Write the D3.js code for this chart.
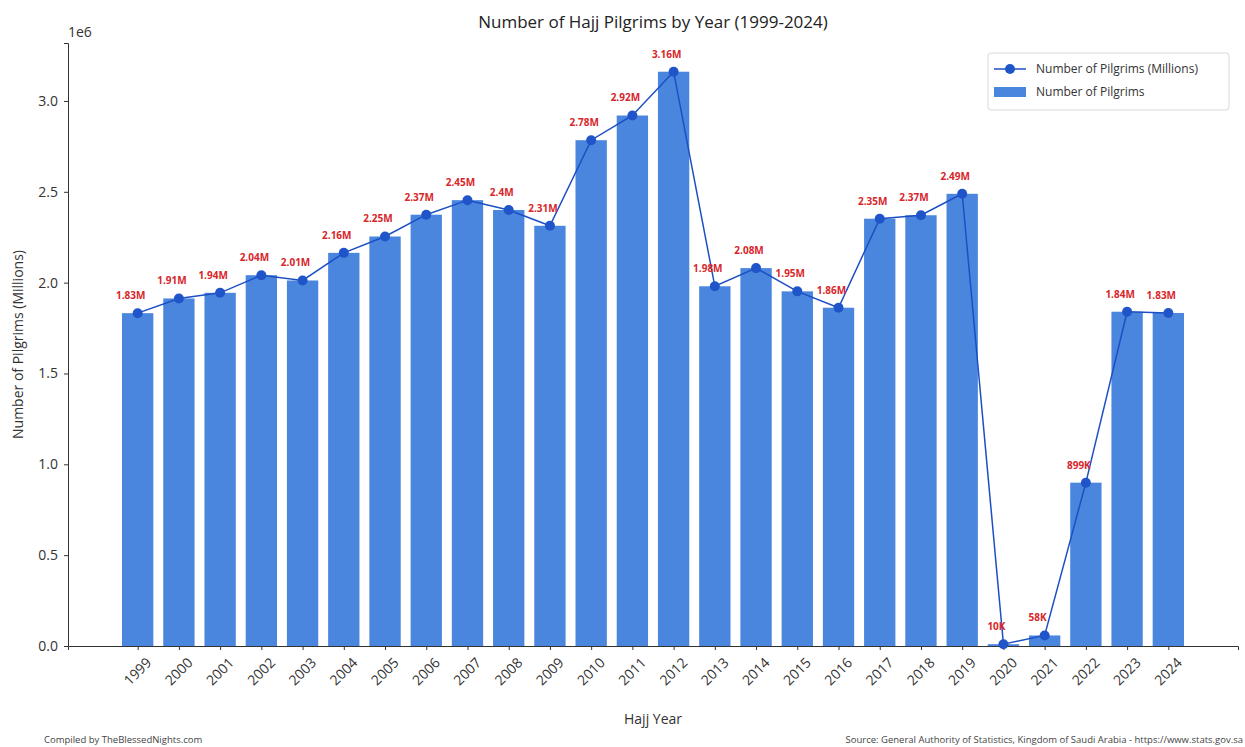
<!DOCTYPE html>
<html>
<head>
<meta charset="utf-8">
<script src="https://cdn.jsdelivr.net/npm/d3@7"></script>
<style>
  body { margin: 0; background: #fff; }
  text { font-family: 'Open Sans', Roboto, sans-serif; }
</style>
</head>
<body>
<div id="chart"></div>
<script>
const years = ['1999', '2000', '2001', '2002', '2003', '2004', '2005', '2006', '2007', '2008', '2009', '2010', '2011', '2012', '2013', '2014', '2015', '2016', '2017', '2018', '2019', '2020', '2021', '2022', '2023', '2024']
const pilgrims = [1832000, 1913000, 1944000, 2041000, 2012000, 2164000, 2254000, 2374000, 2454000, 2400000, 2313000, 2784000, 2920000, 3161000, 1980000, 2080000, 1952000, 1862000, 2352000, 2371000, 2489000, 10000, 58000, 899000, 1840000, 1833000]
const yTicks = [0, 500000, 1000000, 1500000, 2000000, 2500000, 3000000]

const width = 1245
const height = 747
const margin = { top: 43, left: 68, right: 7, bottom: 101 }
const innerW = width - margin.left - margin.right
const innerH = height - margin.top - margin.bottom

const barColor = '#4a86de'
const lineColor = '#1c4fc4'
const labelColor = '#d8262b'

const svg = d3
  .select('#chart')
  .append('svg')
  .attr('width', width)
  .attr('height', height)

const g = svg
  .append('g')
  .attr('transform', 'translate(' + margin.left + ',' + margin.top + ')')

// matplotlib style: bars of width 0.8 with 5% margins on each side
const n = years.length
const pad = 0.05 * (n - 1 + 0.8)
const xIndex = d3
  .scaleLinear()
  .domain([-0.4 - pad, n - 1 + 0.4 + pad])
  .range([0, innerW])
const step = xIndex(1) - xIndex(0)
const barW = step * 0.76

const yScale = d3
  .scaleLinear()
  .domain([0, d3.max(pilgrims) * 1.05])
  .range([innerH, 0])

// bars
g.selectAll('.bar')
  .data(pilgrims)
  .enter()
  .append('rect')
  .attr('class', 'bar')
  .attr('x', (d, i) => xIndex(i) - barW / 2)
  .attr('y', d => yScale(d))
  .attr('width', barW)
  .attr('height', d => innerH - yScale(d))
  .attr('fill', barColor)

// axes
const yAxis = d3
  .axisLeft(yScale)
  .tickValues(yTicks)
  .tickFormat(d => (d / 1e6).toFixed(1))
  .tickSizeOuter(0)
  .tickSize(4)
  .tickPadding(6)

g.append('g')
  .attr('class', 'y axis')
  .call(yAxis)

const xAxis = d3
  .axisBottom(xIndex)
  .tickValues(d3.range(n))
  .tickFormat(i => years[i])
  .tickSizeOuter(0)
  .tickSize(4)

const xg = g
  .append('g')
  .attr('class', 'x axis')
  .attr('transform', 'translate(0,' + innerH + ')')
  .call(xAxis)

xg.selectAll('text')
  .attr('y', null)
  .attr('dy', null)
  .style('text-anchor', 'middle')
  .attr('dominant-baseline', 'central')
  .attr('transform', 'translate(-1,25) rotate(-45)')

svg.selectAll('.axis path, .axis line').attr('stroke', '#333').attr('stroke-width', 1)
svg.selectAll('.axis text').style('font-size', '14px').attr('fill', '#333')

// line + markers
const line = d3
  .line()
  .x((d, i) => xIndex(i))
  .y(d => yScale(d))

g.append('path')
  .datum(pilgrims)
  .attr('d', line)
  .attr('fill', 'none')
  .attr('stroke', lineColor)
  .attr('stroke-width', 1.5)

g.selectAll('.dot')
  .data(pilgrims)
  .enter()
  .append('circle')
  .attr('class', 'dot')
  .attr('cx', (d, i) => xIndex(i))
  .attr('cy', d => yScale(d))
  .attr('r', 5)
  .attr('fill', '#1f55c8')

// value labels
function fmt(v) {
  if (v >= 1e6) return +(v / 1e6).toFixed(2) + 'M'
  return Math.round(v / 1e3) + 'K'
}

g.selectAll('.val')
  .data(pilgrims)
  .enter()
  .append('text')
  .attr('class', 'val')
  .attr('x', (d, i) => xIndex(i) - 7)
  .attr('y', d => yScale(d) - 14)
  .style('text-anchor', 'middle')
  .style('font-size', '10px')
  .style('font-weight', 700)
  .attr('fill', labelColor)
  .text(d => fmt(d))

// 1e6 offset text
svg
  .append('text')
  .attr('x', margin.left)
  .attr('y', margin.top - 6)
  .style('font-size', '14px')
  .attr('fill', '#333')
  .text('1e6')

// titles
svg
  .append('text')
  .attr('x', margin.left + innerW / 2)
  .attr('y', 28)
  .style('text-anchor', 'middle')
  .style('font-size', '17px')
  .attr('fill', '#222')
  .text('Number of Hajj Pilgrims by Year (1999-2024)')

svg
  .append('text')
  .attr('x', margin.left + innerW / 2)
  .attr('y', 724)
  .style('text-anchor', 'middle')
  .style('font-size', '14px')
  .attr('fill', '#333')
  .text('Hajj Year')

svg
  .append('text')
  .attr('transform', 'translate(23,' + (margin.top + innerH / 2) + ') rotate(-90)')
  .style('text-anchor', 'middle')
  .style('font-size', '14px')
  .attr('fill', '#333')
  .text('Number of Pilgrims (Millions)')

// footers
svg
  .append('text')
  .attr('x', 44)
  .attr('y', 743)
  .style('font-size', '9.5px')
  .attr('fill', '#444')
  .text('Compiled by TheBlessedNights.com')

svg
  .append('text')
  .attr('x', 1243)
  .attr('y', 743)
  .style('text-anchor', 'end')
  .style('font-size', '9.5px')
  .attr('fill', '#444')
  .text('Source: General Authority of Statistics, Kingdom of Saudi Arabia - https://www.stats.gov.sa')

// legend
const legend = svg.append('g').attr('transform', 'translate(988,53)')

legend
  .append('rect')
  .attr('width', 241)
  .attr('height', 57)
  .attr('rx', 3)
  .attr('fill', '#fff')
  .attr('fill-opacity', 0.8)
  .attr('stroke', '#d8d8d8')

legend
  .append('line')
  .attr('x1', 6)
  .attr('x2', 38)
  .attr('y1', 16)
  .attr('y2', 16)
  .attr('stroke', lineColor)
  .attr('stroke-width', 1.5)

legend
  .append('circle')
  .attr('cx', 22)
  .attr('cy', 16)
  .attr('r', 5)
  .attr('fill', '#1f55c8')

legend
  .append('rect')
  .attr('x', 6)
  .attr('y', 34)
  .attr('width', 32)
  .attr('height', 10)
  .attr('fill', barColor)

const legendText = ['Number of Pilgrims (Millions)', 'Number of Pilgrims']
legend
  .selectAll('.lt')
  .data(legendText)
  .enter()
  .append('text')
  .attr('class', 'lt')
  .attr('x', 48)
  .attr('y', (d, i) => 20 + i * 23)
  .style('font-size', '12px')
  .attr('fill', '#333')
  .text(d => d)
</script>
</body>
</html>
